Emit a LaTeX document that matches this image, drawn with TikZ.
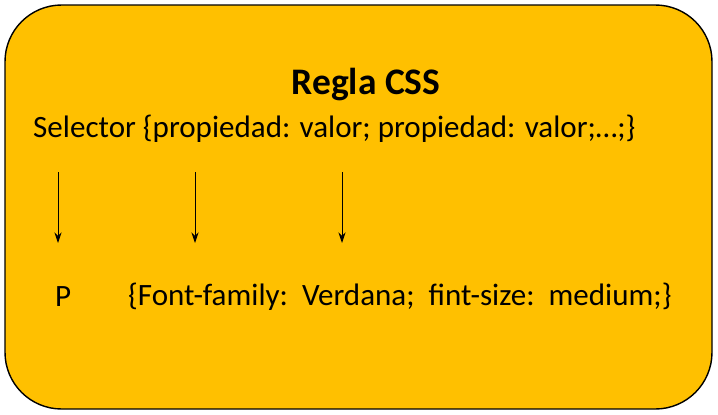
\documentclass[tikz,border=0pt]{standalone}
\usepackage{fontspec}
\setmainfont{Carlito}
\usetikzlibrary{positioning,arrows.meta}
\begin{document}
\begin{tikzpicture}[x=0.03cm,y=-0.03cm]
  \tikzset{txt/.style={anchor=west,inner sep=0pt,font=\fontsize{26.5}{30}\selectfont}}
  \useasboundingbox (0,0) rectangle (718,414);
  \draw[fill={rgb,255:red,255;green,192;blue,0},line width=1.2pt,rounded corners=1.7cm] (5,5) rectangle (712,409);
  \node[inner sep=0pt,font=\fontsize{32}{36}\selectfont\bfseries] (title) at (366,85) {Regla CSS};
  \node[txt] (rule) at (33,129) {Selector \{propiedad: valor; propiedad: valor;\dots;\}};
  \node[txt] (sel) at (55,297) {P};
  \node[txt] (decl) at (128,297) {\{Font-family:\ \ Verdana;\ \ fint-size:\ \ medium;\}};
  \foreach \x/\n in {58/a,195/b,342/c}{
    \coordinate (top\n) at (\x,172);
    \coordinate (bot\n) at (\x,243);
    \draw[-{Stealth[length=9pt,width=6pt]},line width=0.8pt] (top\n) -- (bot\n);
  }
\end{tikzpicture}
\end{document}
